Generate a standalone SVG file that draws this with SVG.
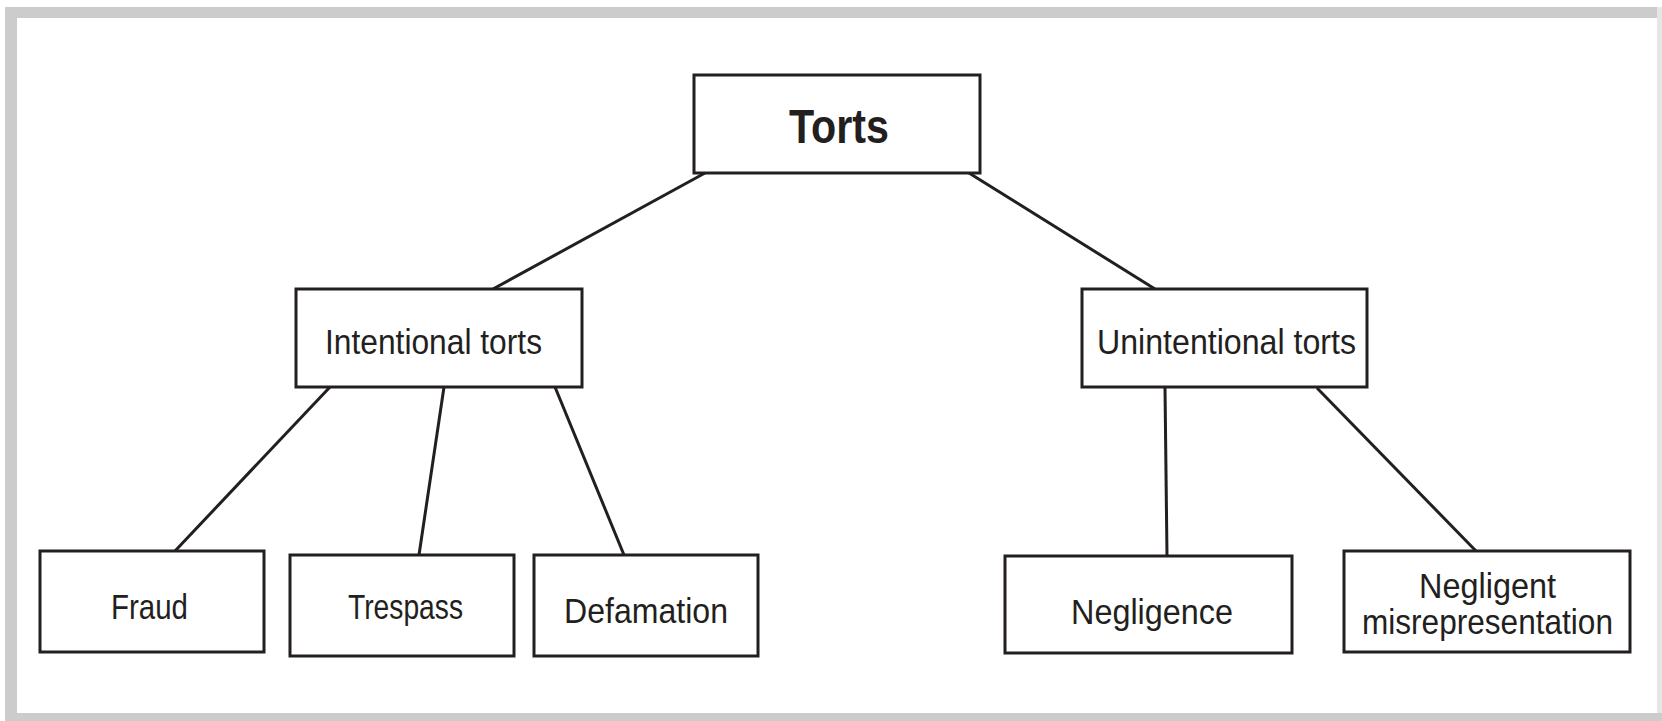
<svg xmlns="http://www.w3.org/2000/svg" width="1662" height="721" viewBox="0 0 1662 721">
<style>
.box{fill:#fff;stroke:#231f20;stroke-width:3}
.ln{stroke:#231f20;stroke-width:3;fill:none}
.t{font-family:"Liberation Sans",Arial,sans-serif;font-size:35px;fill:#231f20}
.tb{font-family:"Liberation Sans",Arial,sans-serif;font-size:48px;font-weight:bold;fill:#231f20}
</style>
<rect x="0" y="0" width="1662" height="721" fill="#fff"/>
<rect x="5" y="7" width="1657" height="714" fill="#cccccc"/>
<rect x="1657" y="7" width="5" height="706" fill="#e6e6e6"/>
<rect x="17" y="18" width="1640" height="695" fill="#fff"/>
<g id="connectors">
<line class="ln" x1="705" y1="173" x2="493" y2="289"/>
<line class="ln" x1="969" y1="173" x2="1155" y2="289"/>
<line class="ln" x1="330" y1="387" x2="175" y2="551"/>
<line class="ln" x1="444" y1="387" x2="419" y2="555"/>
<line class="ln" x1="555" y1="387" x2="624" y2="555"/>
<line class="ln" x1="1165" y1="388" x2="1167" y2="556"/>
<line class="ln" x1="1317" y1="388" x2="1476" y2="551"/>
</g>
<g id="torts">
<rect class="box" x="694" y="75" width="286" height="98"/>
<text class="tb" x="789" y="143" textLength="100" lengthAdjust="spacingAndGlyphs">Torts</text>
</g>
<g id="intentional">
<rect class="box" x="296" y="289" width="286" height="98"/>
<text class="t" x="325" y="354" textLength="217" lengthAdjust="spacingAndGlyphs">Intentional torts</text>
</g>
<g id="unintentional">
<rect class="box" x="1082" y="289" width="285" height="98"/>
<text class="t" x="1097" y="354" textLength="259" lengthAdjust="spacingAndGlyphs">Unintentional torts</text>
</g>
<g id="fraud">
<rect class="box" x="40" y="551" width="224" height="101"/>
<text class="t" x="111" y="619" textLength="77" lengthAdjust="spacingAndGlyphs">Fraud</text>
</g>
<g id="trespass">
<rect class="box" x="290" y="555" width="224" height="101"/>
<text class="t" x="348" y="619" textLength="115" lengthAdjust="spacingAndGlyphs">Trespass</text>
</g>
<g id="defamation">
<rect class="box" x="534" y="555" width="224" height="101"/>
<text class="t" x="564" y="623" textLength="164" lengthAdjust="spacingAndGlyphs">Defamation</text>
</g>
<g id="negligence">
<rect class="box" x="1005" y="556" width="287" height="97"/>
<text class="t" x="1071" y="624" textLength="162" lengthAdjust="spacingAndGlyphs">Negligence</text>
</g>
<g id="negligent-misrepresentation">
<rect class="box" x="1344" y="551" width="286" height="101"/>
<text class="t" x="1419" y="598" textLength="137" lengthAdjust="spacingAndGlyphs">Negligent</text>
<text class="t" x="1362" y="634" textLength="251" lengthAdjust="spacingAndGlyphs">misrepresentation</text>
</g>
</svg>
